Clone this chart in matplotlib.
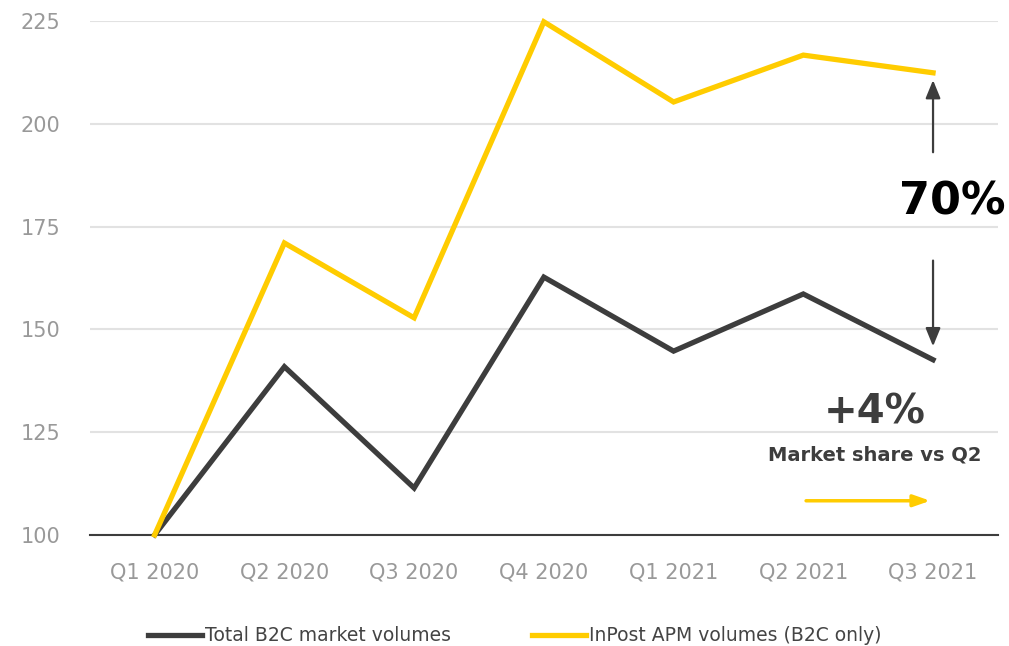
import matplotlib
matplotlib.use("Agg")
import matplotlib.pyplot as plt

quarters = ["Q1 2020", "Q2 2020", "Q3 2020", "Q4 2020", "Q1 2021", "Q2 2021", "Q3 2021"]
total_b2c = [100, 140.9, 111.4, 162.7, 144.7, 158.6, 142.6]
inpost_apm = [100, 171.0, 152.8, 224.8, 205.3, 216.7, 212.4]
yticks = [100, 125, 150, 175, 200, 225]

dark = "#3d3d3d"
yellow = "#ffcc00"

plt.rcParams['font.family'] = ['DejaVu Sans']

fig = plt.figure(figsize=(10.09, 6.46), dpi=100)
ax = fig.add_axes([0.089, 0.172, 0.9, 0.7955])

x = list(range(len(quarters)))
ax.plot(x, total_b2c, color=dark, lw=3.8, label="Total B2C market volumes",
        solid_joinstyle="miter", clip_on=False, zorder=3)
ax.plot(x, inpost_apm, color=yellow, lw=3.8, label="InPost APM volumes (B2C only)",
        solid_joinstyle="miter", clip_on=False, zorder=3)

ax.set_xlim(-0.5, 6.5)
ax.set_ylim(100, 225)
ax.set_xticks(x)
ax.set_xticklabels(quarters)
ax.set_yticks(yticks)
ax.tick_params(axis="both", length=0, labelsize=15, labelcolor="#999999")
ax.tick_params(axis="y", pad=21)
ax.tick_params(axis="x", pad=20)
ax.grid(axis="y", color="#e2e2e2", lw=1.5)
ax.set_axisbelow(True)
for s in ["top", "right", "left"]:
    ax.spines[s].set_visible(False)
ax.spines["bottom"].set_color(dark)
ax.spines["bottom"].set_linewidth(1.5)

# annotations
arrow_dark = dict(arrowstyle="-|>,head_width=0.45,head_length=1.1", color=dark, lw=1.6)
ax.annotate("", xy=(6, 211.3), xytext=(6, 192.4), arrowprops=arrow_dark)
ax.annotate("", xy=(6, 145.2), xytext=(6, 167.4), arrowprops=arrow_dark)
ax.text(6.15, 181, "70%", fontsize=32, fontweight="bold", color="black",
        ha="center", va="center")
ax.text(5.55, 129.8, "+4%", fontsize=29, fontweight="bold", color=dark,
        ha="center", va="center")
ax.text(5.55, 119.4, "Market share vs Q2", fontsize=14, fontweight="bold", color=dark,
        ha="center", va="center")
ax.annotate("", xy=(6.0, 108.3), xytext=(5.0, 108.3),
            arrowprops=dict(arrowstyle="-|>,head_width=0.35,head_length=1.0", color=yellow, lw=2.5))

fig.legend(loc="center", bbox_to_anchor=(0.51, 0.016), ncol=2, frameon=False,
           fontsize=13.5, labelcolor="#444444", handlelength=2.9, handletextpad=0.15,
           columnspacing=4.3)

fig.savefig("out.png", dpi=100)
